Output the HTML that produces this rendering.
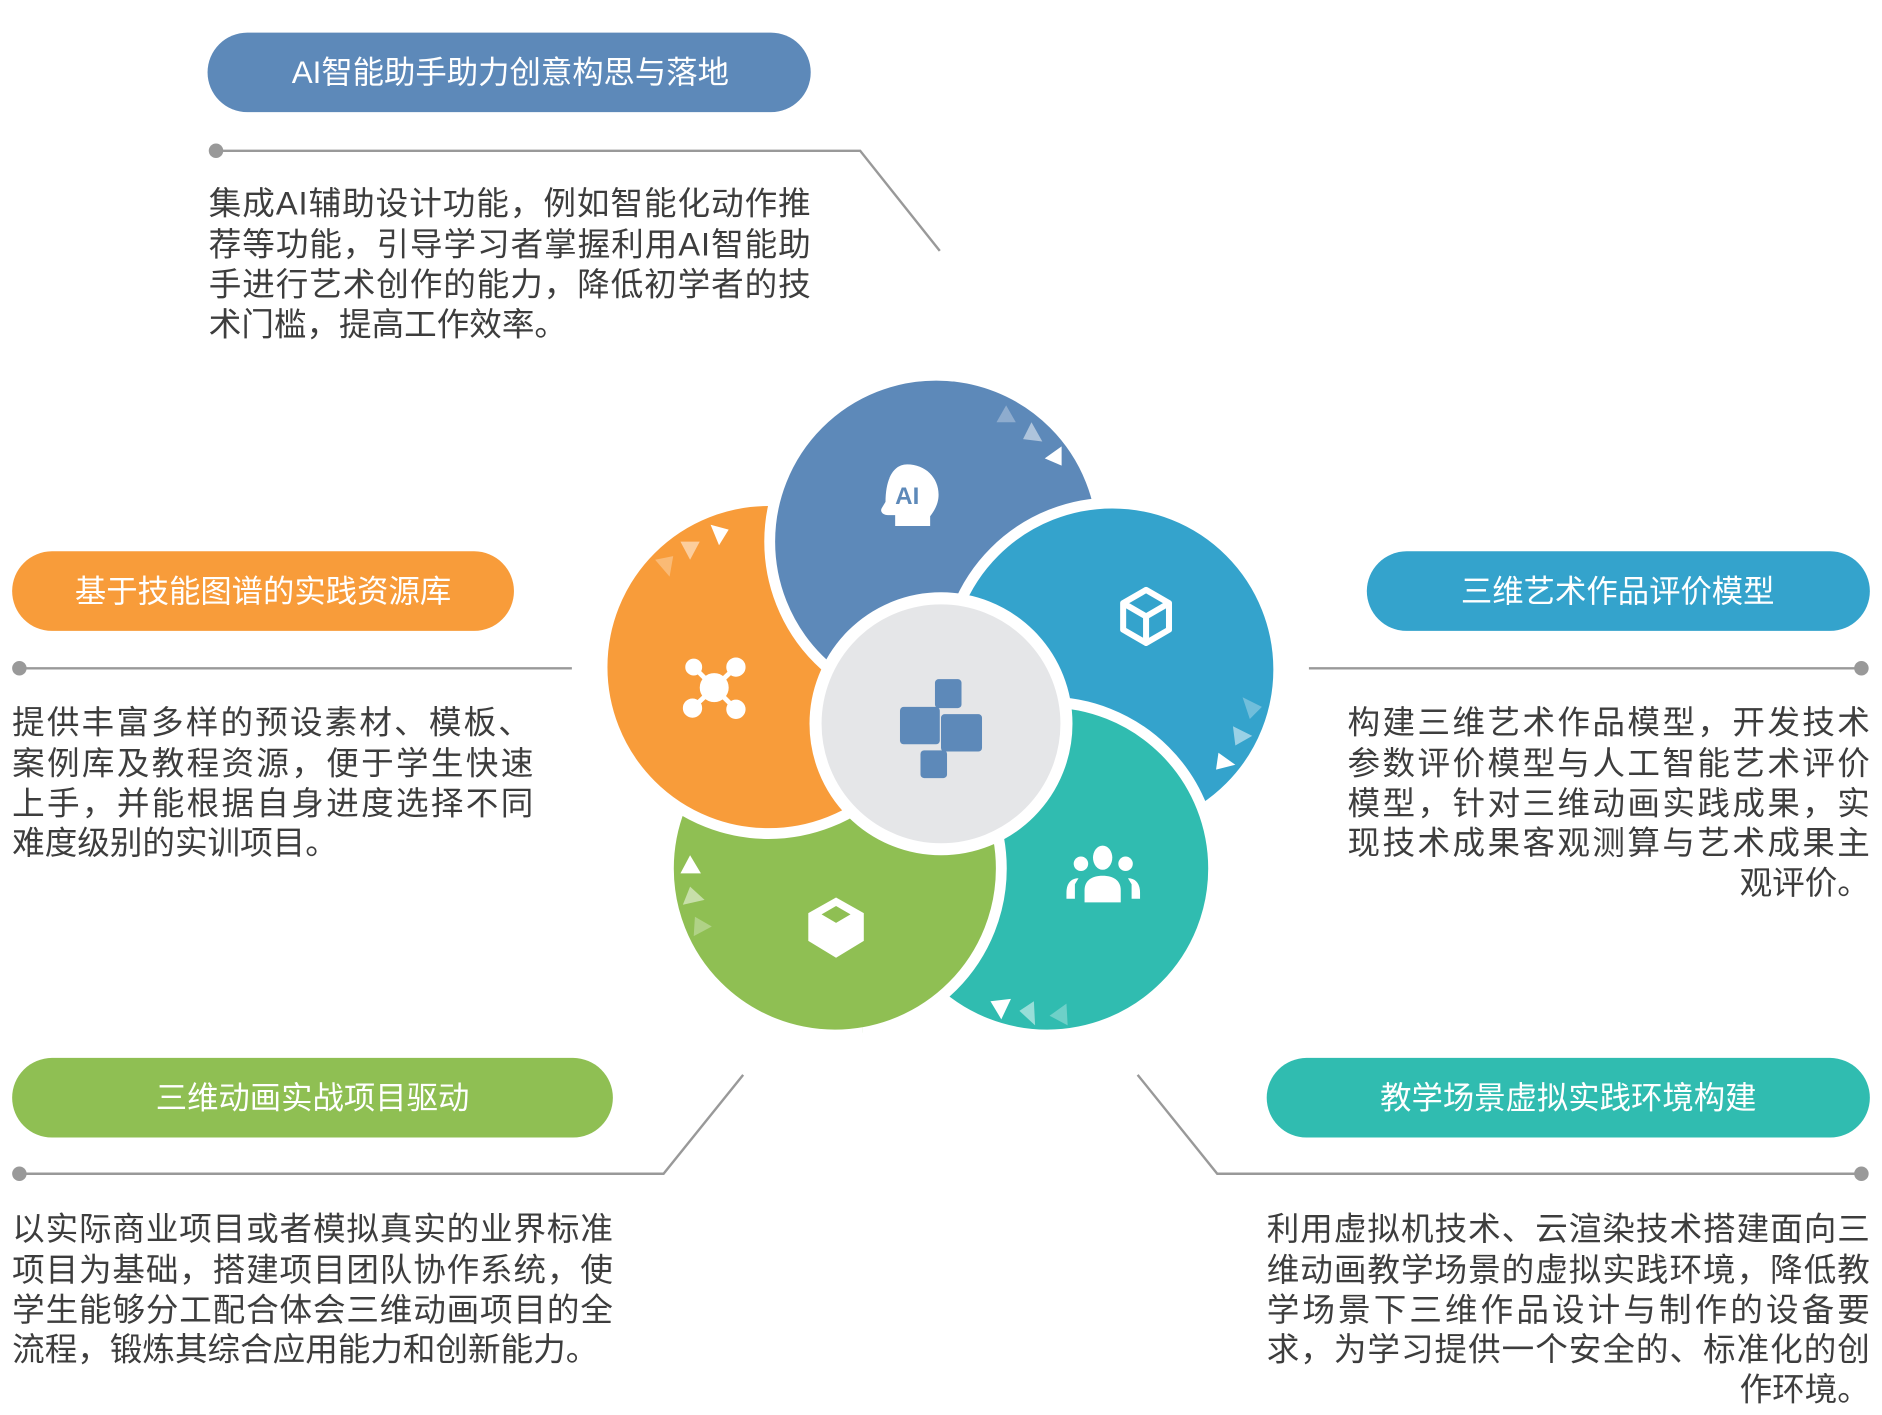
<!DOCTYPE html>
<html><head><meta charset="utf-8"><style>
html,body{margin:0;padding:0;background:#fff;}
svg{display:block;}
text{font-family:"Liberation Sans","Noto Sans CJK SC",sans-serif;}
.b{font-size:27px;fill:#3d3d3d;}
.p{font-size:26px;fill:#fff;text-anchor:middle;}
</style></head><body>
<svg width="1882" height="1415" viewBox="0 0 1560 1173" xmlns="http://www.w3.org/2000/svg">
<defs><clipPath id="gc"><rect x="715" y="600" width="140" height="280"/></clipPath></defs>
<rect x="172" y="27" width="500" height="66" rx="33" fill="#5d89b9"/>
<text class="p" x="423" y="69">AI智能助手助力创意构思与落地</text>
<rect x="10" y="457" width="416" height="66" rx="33" fill="#f89c3a"/>
<text class="p" x="218" y="499">基于技能图谱的实践资源库</text>
<rect x="1133" y="457" width="417" height="66" rx="33" fill="#34a3cc"/>
<text class="p" x="1341" y="499">三维艺术作品评价模型</text>
<rect x="10" y="877" width="498" height="66" rx="33" fill="#8fbf53"/>
<text class="p" x="259" y="919">三维动画实战项目驱动</text>
<rect x="1050" y="877" width="500" height="66" rx="33" fill="#30bcb0"/>
<text class="p" x="1300" y="919">教学场景虚拟实践环境构建</text>

<g stroke="#999" stroke-width="2" fill="none">
<polyline points="179,125 713,125 779,208"/>
<polyline points="16,554 474,554"/>
<polyline points="1085,554 1543,554"/>
<polyline points="16,973 550,973 616,891"/>
<polyline points="943,891 1009,973 1543,973"/>
</g>
<g fill="#999"><circle cx="179" cy="125" r="6"/><circle cx="16" cy="554" r="6"/><circle cx="1543" cy="554" r="6"/><circle cx="16" cy="973" r="6"/><circle cx="1543" cy="973" r="6"/></g>

<g class="b">
<text x="173" y="178" textLength="499" lengthAdjust="spacing">集成AI辅助设计功能，例如智能化动作推</text>
<text x="173" y="212" textLength="499" lengthAdjust="spacing">荐等功能，引导学习者掌握利用AI智能助</text>
<text x="173" y="245" textLength="499" lengthAdjust="spacing">手进行艺术创作的能力，降低初学者的技</text>
<text x="173" y="278">术门槛，提高工作效率。</text>

<text x="10" y="608" textLength="430" lengthAdjust="spacing">提供丰富多样的预设素材、模板、</text>
<text x="10" y="642" textLength="432" lengthAdjust="spacing">案例库及教程资源，便于学生快速</text>
<text x="10" y="675" textLength="432" lengthAdjust="spacing">上手，并能根据自身进度选择不同</text>
<text x="10" y="708">难度级别的实训项目。</text>

<text x="1117" y="608" textLength="433" lengthAdjust="spacing">构建三维艺术作品模型，开发技术</text>
<text x="1117" y="642" textLength="433" lengthAdjust="spacing">参数评价模型与人工智能艺术评价</text>
<text x="1117" y="675" textLength="433" lengthAdjust="spacing">模型，针对三维动画实践成果，实</text>
<text x="1117" y="708" textLength="433" lengthAdjust="spacing">现技术成果客观测算与艺术成果主</text>
<text x="1550" y="741" text-anchor="end">观评价。</text>

<text x="10" y="1028" textLength="498" lengthAdjust="spacing">以实际商业项目或者模拟真实的业界标准</text>
<text x="10" y="1062" textLength="498" lengthAdjust="spacing">项目为基础，搭建项目团队协作系统，使</text>
<text x="10" y="1095" textLength="498" lengthAdjust="spacing">学生能够分工配合体会三维动画项目的全</text>
<text x="10" y="1128">流程，锻炼其综合应用能力和创新能力。</text>

<text x="1050" y="1028" textLength="500" lengthAdjust="spacing">利用虚拟机技术、云渲染技术搭建面向三</text>
<text x="1050" y="1062" textLength="500" lengthAdjust="spacing">维动画教学场景的虚拟实践环境，降低教</text>
<text x="1050" y="1095" textLength="500" lengthAdjust="spacing">学场景下三维作品设计与制作的设备要</text>
<text x="1050" y="1128" textLength="500" lengthAdjust="spacing">求，为学习提供一个安全的、标准化的创</text>
<text x="1550" y="1161" text-anchor="end">作环境。</text>
</g>

<g stroke="#fff" stroke-width="9">
<circle cx="692" cy="720" r="138" fill="#8fbf53"/>
<circle cx="637" cy="553" r="138" fill="#f89c3a"/>
<circle cx="776" cy="449" r="138" fill="#5d89b9"/>
<circle cx="922" cy="555" r="138" fill="#34a3cc"/>
<circle cx="868" cy="720" r="138" fill="#30bcb0"/>
<circle cx="692" cy="720" r="138" fill="#8fbf53" clip-path="url(#gc)"/>
<circle cx="780" cy="600" r="104" fill="#e5e6e8" stroke-width="10"/>
</g>

<g fill="#fff">
<polygon points="834,336 826,350 842,350" opacity="0.3"/>
<polygon points="855,350 848,364 864,366" opacity="0.5"/>
<polygon points="880,370 866,380 880,386"/>
<polygon points="589,435 604,439 596,452"/>
<polygon points="564,449 580,449 572,464" opacity="0.5"/>
<polygon points="543,464 558,461 555,478" opacity="0.3"/>
<polygon points="1030,578 1046,586 1036,596" opacity="0.3"/>
<polygon points="1022,602 1038,610 1024,618" opacity="0.5"/>
<polygon points="1010,624 1024,634 1008,638"/>
<polygon points="572,709 564,724 581,724"/>
<polygon points="572,735 566,750 584,746" opacity="0.5"/>
<polygon points="576,760 575,776 590,768" opacity="0.3"/>
<polygon points="821,830 838,828 830,845"/>
<polygon points="845,838 857,830 858,850" opacity="0.5"/>
<polygon points="870,842 884,832 885,850" opacity="0.3"/>
</g>

<path d="M752,385 c15,0 26,11 26,25 c0,8 -4,14 -7,18 v8 h-29 v-9 h-6 c-4,0 -7,-3 -5,-6 l3,-5 c0,-18 6,-31 18,-31z" fill="#fff"/>
<text x="752" y="418" font-size="20" font-weight="bold" fill="#5d89b9" text-anchor="middle" style="font-family:'Liberation Sans',sans-serif">AI</text>
<g fill="none" stroke="#fff" stroke-width="5" stroke-linejoin="round">
<polygon points="950,489 969,500 969,522 950,533 931,522 931,500"/>
<polyline points="931,500 950,511 969,500"/><line x1="950" y1="511" x2="950" y2="533"/>
</g>
<g fill="#fff" stroke="#fff" stroke-width="4">
<circle cx="592" cy="570" r="10"/>
<circle cx="575" cy="553" r="5"/><circle cx="610" cy="553" r="6"/>
<circle cx="574" cy="587" r="6"/><circle cx="610" cy="588" r="6"/>
<line x1="575" y1="553" x2="610" y2="588"/><line x1="610" y1="553" x2="574" y2="587"/>
</g>
<g fill="#fff">
<ellipse cx="914" cy="711" rx="8" ry="10"/>
<circle cx="896" cy="716" r="6"/><circle cx="933" cy="716" r="6"/>
<path d="M899,748 v-10 c0,-8 6,-12 15,-12 c9,0 15,4 15,12 v10 z"/>
<path d="M884,740 c0,-8 4,-12 10,-12 l-3,5 v12 h-7z"/>
<path d="M945,740 c0,-8 -4,-12 -10,-12 l3,5 v12 h7z"/>
</g>
<polygon points="693,744 716,757 716,780 693,794 670,780 670,757" fill="#fff"/>
<polygon points="693,751 705,758 693,765 681,758" fill="#8fbf53"/>
<g fill="#5d89b9">
<rect x="775" y="563" width="22" height="24" rx="3"/>
<rect x="746" y="586" width="33" height="31" rx="3"/>
<rect x="780" y="592" width="34" height="31" rx="3"/>
<rect x="763" y="622" width="22" height="23" rx="3"/>
</g>
</svg>
</body></html>
